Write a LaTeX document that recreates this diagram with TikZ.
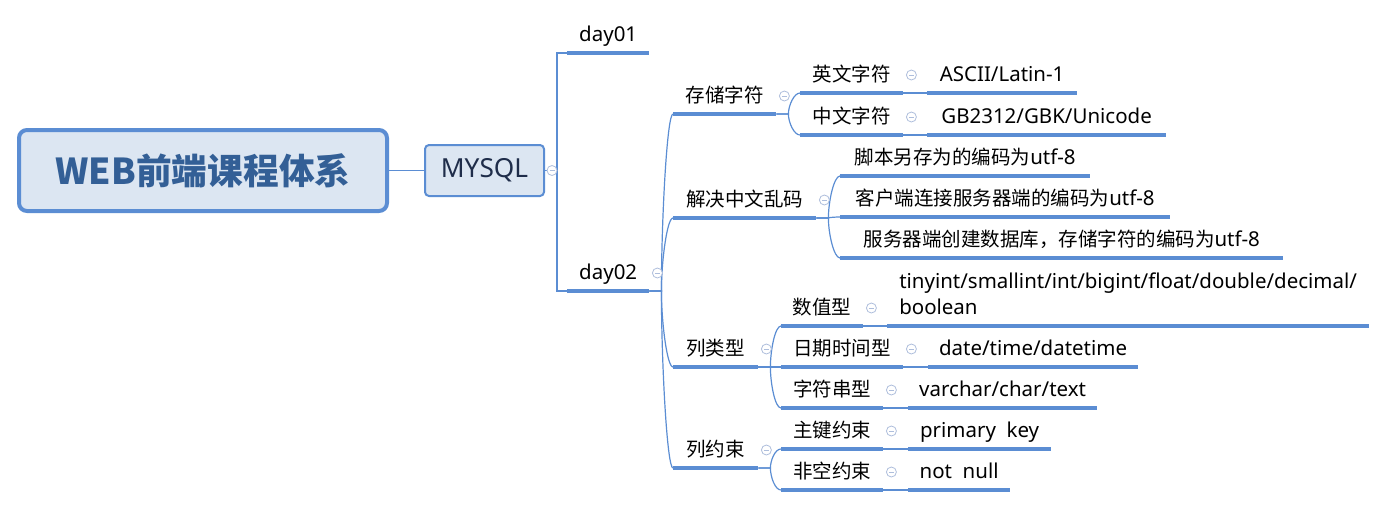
\documentclass[tikz,border=0pt]{standalone}
\usepackage{fontspec}
\setmainfont{Noto Sans}[Scale=1.05]
\newfontfamily\zh{Noto Sans CJK SC}
\usetikzlibrary{positioning,calc}

\definecolor{lineblue}{HTML}{5B8DD3}
\definecolor{boxfill}{HTML}{DCE6F2}
\definecolor{titleblue}{HTML}{335F96}
\definecolor{mysqlink}{HTML}{1F2D4A}
\definecolor{foldgray}{HTML}{AEBEDC}

\tikzset{
  uline/.style={draw=lineblue, line width=3.5pt},
  conn/.style={draw=lineblue, line width=1.2pt},
  topic/.style={inner xsep=0pt, inner ysep=0pt, text height=15pt, text depth=11pt,
    anchor=south west, font=\fontsize{19.5}{26}\selectfont,
    append after command={(\tikzlastnode.south west) edge[uline] (\tikzlastnode.south east)}},
  rootbox/.style={draw=lineblue, line width=4pt, fill=boxfill, rounded corners=8pt,
    minimum width=368pt, minimum height=81pt, text=titleblue,
    font=\zh\bfseries\fontsize{35.7}{40}\selectfont},
  mainbox/.style={draw=lineblue, line width=2pt, fill=boxfill, rounded corners=4pt,
    minimum width=119pt, minimum height=51pt, text=mysqlink,
    font=\fontsize{25}{30}\selectfont},
  branch/.style={to path={-- ++(12,0) coordinate (bend)
    .. controls ($(bend)!0.4!(bend |- \tikztotarget)$) and ($(\tikztotarget)+(-6,0)$) .. (\tikztotarget)}},
  elbow/.style={to path={-- ++(12,0) |- (\tikztotarget)}},
  fold/.style={circle, draw=foldgray, fill=white, line width=0.8pt, minimum size=10pt, inner sep=0pt,
    path picture={\draw[foldgray, line width=0.8pt]
      ([xshift=-2.5pt]path picture bounding box.center) -- ([xshift=2.5pt]path picture bounding box.center);}},
}

\begin{document}
\begin{tikzpicture}[x=1pt, y=-1pt]
  \useasboundingbox (0,0) rectangle (1386,507);

  \node[rootbox] (root) at (203,170.5) {WEB前端课程体系};
  \node[mainbox] (mysql) [right=35pt of root] {MYSQL};

  \node[topic, minimum width=82pt] (d1) at (567,53) {day01};
  \node[topic, minimum width=82pt] (d2) at (567,291) {day02};

  \node[topic, minimum width=103pt] (ccz) at (673,114) {\zh 存储字符};
  \node[topic, minimum width=143pt] (jj) at (673,218) {\zh 解决中文乱码};
  \node[topic, minimum width=85pt] (llx) at (673,367) {\zh 列类型};
  \node[topic, minimum width=85pt] (lys) at (673,468) {\zh 列约束};

  \node[topic, minimum width=103pt] (ywzf) at (800,93) {\zh 英文字符};
  \node[topic, minimum width=149pt] (ascii) [right=24pt of ywzf.south east, anchor=south west] {ASCII/Latin-1};
  \node[topic, minimum width=103pt] (zwzf) at (800,135) {\zh 中文字符};
  \node[topic, minimum width=238pt] (gbk) [right=24pt of zwzf.south east, anchor=south west] {GB2312/GBK/Unicode};

  \node[topic, minimum width=250pt] (jbbm) at (840,176) {{\zh 脚本另存为的编码为}utf-8};
  \node[topic, minimum width=330pt] (khbm) at (840,217) {{\zh 客户端连接服务器端的编码为}utf-8};
  \node[topic, minimum width=443pt] (fwbm) at (840,258) {{\zh 服务器端创建数据库，存储字符的编码为}utf-8};

  \node[topic, minimum width=82pt] (szx) at (781,326) {\zh 数值型};
  \node[topic, minimum width=481pt, align=left] (szlx) [right=24pt of szx.south east, anchor=south west]
    {tinyint/smallint/int/bigint/float/double/decimal/\\boolean};
  \node[topic, minimum width=122pt] (rqx) at (781,367) {\zh 日期时间型};
  \node[topic, minimum width=209pt] (rqlx) [right=25pt of rqx.south east, anchor=south west] {date/time/datetime};
  \node[topic, minimum width=102pt] (zfcx) at (781,408) {\zh 字符串型};
  \node[topic, minimum width=188pt] (zflx) [right=25pt of zfcx.south east, anchor=south west] {varchar/char/text};

  \node[topic, minimum width=102pt] (zjys) at (781,449) {\zh 主键约束};
  \node[topic, minimum width=142pt] (zjlx) [right=25pt of zjys.south east, anchor=south west] {primary~~key};
  \node[topic, minimum width=102pt] (fkys) at (781,490) {\zh 非空约束};
  \node[topic, minimum width=101pt] (fklx) [right=25pt of fkys.south east, anchor=south west] {not~~null};

  \path[conn] (root) edge (mysql);
  \path[conn] (mysql.east) edge[elbow] (d1.south west) edge[elbow] (d2.south west);
  \path[conn] (d2.south east) edge[branch] (ccz.south west) edge[branch] (jj.south west)
    edge[branch] (llx.south west) edge[branch] (lys.south west);
  \path[conn] (ccz.south east) edge[branch] (ywzf.south west) edge[branch] (zwzf.south west);
  \path[conn] (ywzf.south east) edge[branch] (ascii.south west);
  \path[conn] (zwzf.south east) edge[branch] (gbk.south west);
  \path[conn] (jj.south east) edge[branch] (jbbm.south west) edge[branch] (khbm.south west)
    edge[branch] (fwbm.south west);
  \path[conn] (llx.south east) edge[branch] (szx.south west) edge[branch] (rqx.south west)
    edge[branch] (zfcx.south west);
  \path[conn] (szx.south east) edge[branch] (szlx.south west);
  \path[conn] (rqx.south east) edge[branch] (rqlx.south west);
  \path[conn] (zfcx.south east) edge[branch] (zflx.south west);
  \path[conn] (lys.south east) edge[branch] (zjys.south west) edge[branch] (fkys.south west);
  \path[conn] (zjys.south east) edge[branch] (zjlx.south west);
  \path[conn] (fkys.south east) edge[branch] (fklx.south west);

  \node[fold] (f1) at ($(mysql.east)+(7,0)$) {};
  \node[fold] (f2) at ($(d2.south east)+(8,-18)$) {};
  \node[fold] (f3) at ($(ccz.south east)+(8,-18)$) {};
  \node[fold] (f4) at ($(jj.south east)+(8,-18)$) {};
  \node[fold] (f5) at ($(llx.south east)+(8,-18)$) {};
  \node[fold] (f6) at ($(lys.south east)+(8,-18)$) {};
  \node[fold] (f7) at ($(ywzf.south east)+(8,-18)$) {};
  \node[fold] (f8) at ($(zwzf.south east)+(8,-18)$) {};
  \node[fold] (f9) at ($(szx.south east)+(8,-18)$) {};
  \node[fold] (f10) at ($(rqx.south east)+(8,-18)$) {};
  \node[fold] (f11) at ($(zfcx.south east)+(8,-18)$) {};
  \node[fold] (f12) at ($(zjys.south east)+(8,-18)$) {};
  \node[fold] (f13) at ($(fkys.south east)+(8,-18)$) {};
\end{tikzpicture}
\end{document}
